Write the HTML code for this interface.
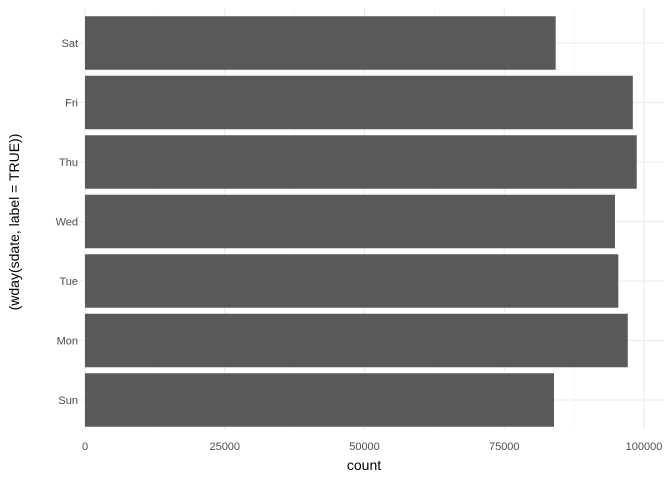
<!DOCTYPE html>
<html><head><meta charset="utf-8"><style>
body{margin:0;background:#fff;font-family:"Liberation Sans",sans-serif}
</style></head><body>
<svg width="672" height="480" xmlns="http://www.w3.org/2000/svg">
<g id="grid"></g><g id="bars"></g><g id="labels"></g>
<text x="364" y="470" font-size="14" text-anchor="middle" fill="#000">count</text>
<text transform="translate(19,222) rotate(-90)" font-size="14" text-anchor="middle" fill="#000">(wday(sdate, label = TRUE))</text>
</svg>
<script>
const categories=["Sun","Mon","Tue","Wed","Thu","Fri","Sat"];
const counts=[83900,97100,95400,94800,98700,98000,84200];
const xTicks=[0,25000,50000,75000,100000];
const xTickLabels=["0","25000","50000","75000","100000"];
const NS="http://www.w3.org/2000/svg";
const x=v=>85+v*(644-85)/100000;
const y=i=>400-i*59.5;
const L=8,R=664,T=8,B=430;
function mk(tag,attrs,parent){const e=document.createElementNS(NS,tag);for(const k in attrs)e.setAttribute(k,attrs[k]);document.getElementById(parent).appendChild(e);return e;}
xTicks.forEach((t,i)=>{
 const g=mk('line',{x1:x(t),x2:x(t),y1:T,y2:B,stroke:'#ebebeb','stroke-width':1.1},'grid');
 
 
 if(i<xTicks.length-1){const m=mk('line',{x1:x(t+12500),x2:x(t+12500),y1:T,y2:B,stroke:'#f3f3f3','stroke-width':0.6},'grid');
 
 }
 const tx=mk('text',{x:x(t),y:450,'font-size':11,'text-anchor':'middle',fill:'#4d4d4d'},'labels');
 tx.textContent=xTickLabels[i];
 
 
});
categories.forEach((c,i)=>{
 const g=mk('line',{x1:L+62,x2:R,y1:y(i),y2:y(i),stroke:'#ebebeb','stroke-width':1.1},'grid');
 
 
 const b=mk('rect',{x:x(0),y:y(i)-26.75,width:x(counts[i])-x(0),height:53.5,fill:'#595959'},'bars');
 
 
 const t=mk('text',{x:78,y:y(i)+4,'font-size':11,'text-anchor':'end',fill:'#4d4d4d'},'labels');
 t.textContent=c;
 
 
});
</script>
</body></html>
